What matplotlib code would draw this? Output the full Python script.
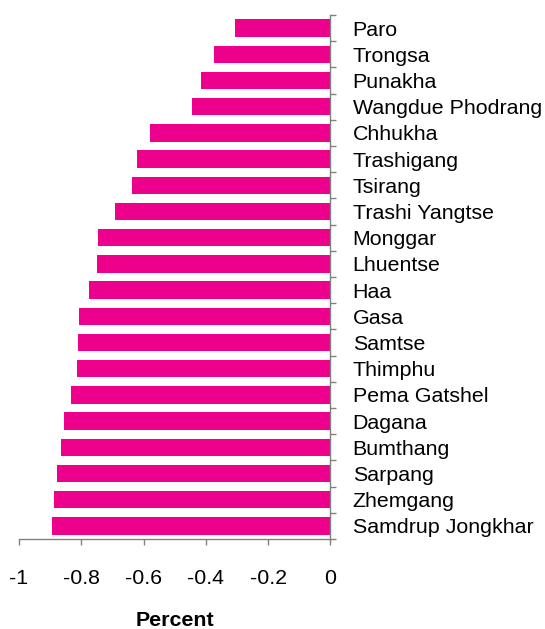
import matplotlib
matplotlib.use('Agg')
import matplotlib.pyplot as plt
import numpy as np

districts = ["Paro", "Trongsa", "Punakha", "Wangdue Phodrang", "Chhukha",
             "Trashigang", "Tsirang", "Trashi Yangtse", "Monggar", "Lhuentse",
             "Haa", "Gasa", "Samtse", "Thimphu", "Pema Gatshel", "Dagana",
             "Bumthang", "Sarpang", "Zhemgang", "Samdrup Jongkhar"]
values = [-0.305, -0.373, -0.415, -0.445, -0.581,
          -0.620, -0.636, -0.691, -0.746, -0.751,
          -0.775, -0.806, -0.810, -0.815, -0.834, -0.857,
          -0.864, -0.877, -0.889, -0.894]
xticks = [-1, -0.8, -0.6, -0.4, -0.2, 0]
xticklabels = ["-1", "-0.8", "-0.6", "-0.4", "-0.2", "0"]

plt.rcParams['font.family'] = ['Liberation Sans', 'DejaVu Sans']
W, H = 545, 629
fig = plt.figure(figsize=(W / 100, H / 100), dpi=100)
left, right, top, bottom = 19, 330.5, 15, 539
ax = fig.add_axes([left / W, 1 - bottom / H, (right - left) / W, (bottom - top) / H])

n = len(districts)
y = np.arange(n)
ax.barh(y, values, height=0.67, color='#EC008C', edgecolor='none')
ax.set_ylim(n - 0.5, -0.5)
ax.set_xlim(-1, 0)

fs = 15.4
gray = '#808080'
ax.yaxis.tick_right()
ax.set_yticks(y)
ax.set_yticklabels(districts, fontsize=fs, color='black')
ax.set_yticks(np.arange(n + 1) - 0.5, minor=True)
ax.tick_params(axis='y', which='major', length=0, pad=16)
ax.tick_params(axis='y', which='minor', length=4.5, width=1, color=gray, direction='out')

ax.set_xticks(xticks)
ax.set_xticklabels(xticklabels, fontsize=fs)
ax.tick_params(axis='x', length=4.5, width=1, color=gray, pad=17)

for s in ['left', 'top']:
    ax.spines[s].set_visible(False)
for s in ['right', 'bottom']:
    ax.spines[s].set_color(gray)
    ax.spines[s].set_linewidth(1)

ax.set_xlabel('Percent', fontsize=fs, fontweight='bold', va='center')
ax.xaxis.set_label_coords(0.5, (bottom - 620) / (bottom - top))

fig.savefig('out.png', dpi=100)
